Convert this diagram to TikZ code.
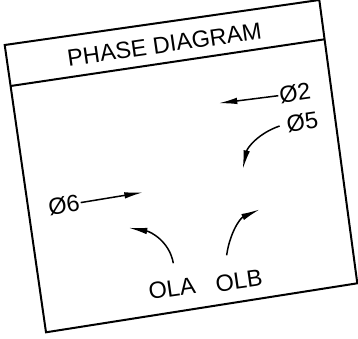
\documentclass[tikz,border=0pt]{standalone}
\usepackage{fontspec}
\setmainfont{Liberation Sans}
\usetikzlibrary{arrows.meta,calc}
\tikzset{
  lbl/.style={inner sep=1pt,rotate=8.2,font=\fontsize{23.5}{27}\selectfont},
  arr/.style={line width=1.5pt,-{Latex[length=19pt,width=6.5pt]}}
}
\begin{document}
\begin{tikzpicture}[x=1pt,y=1pt]
\useasboundingbox (0,0) rectangle (358,338);
% frame and title bar
\draw[line width=2pt] (4.7,293) -- (319.3,338) -- (357.3,54.7) -- (46,5.7) -- cycle;
\draw[line width=2pt] (10.6,252) -- (324.6,298.7);
\node[lbl] (title) at (164.5,293.4) {PHASE DIAGRAM};
% labels
\node[lbl] (o2) at (295,244.7) {Ø2};
\node[lbl] (o5) at (302.3,215.7) {Ø5};
\node[lbl] (o6) at (64,133) {Ø6};
\node[lbl] (ola) at (172,49.7) {OLA};
\node[lbl] (olb) at (239,57.3) {OLB};
% arrow tips
\coordinate (t2) at (218.3,234.7);
\coordinate (t5) at (242.7,168.7);
\coordinate (t6) at (143.3,145.7);
\coordinate (ta) at (128.3,110.3);
\coordinate (tb) at (260,128.7);
\draw[arr] (o2.west) -- (t2);
\draw[arr] ($(o5.west)+(-6,-1.3)$) to[out=199,in=78] (t5);
\draw[arr] (o6.east) -- (t6);
\draw[arr] ($(ola.north)+(2.7,15.6)$) to[out=100,in=-10] (ta);
\draw[arr] ($(olb.north)+(-11,16)$) to[out=82,in=204] (tb);
\end{tikzpicture}
\end{document}
